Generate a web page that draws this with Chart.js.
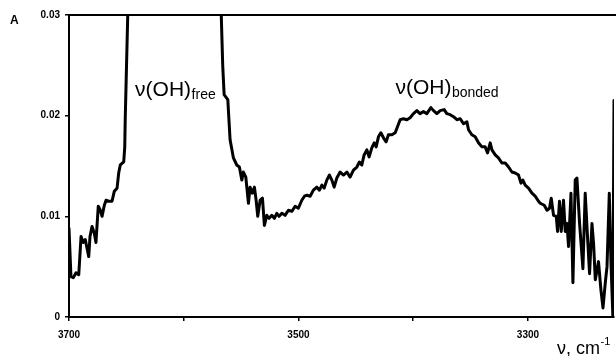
<!DOCTYPE html>
<html>
<head>
<meta charset="utf-8">
<title>IR spectrum, OH stretching region</title>
<script src="https://cdn.jsdelivr.net/npm/chart.js@4/dist/chart.umd.min.js"></script>
<style>
  html, body { margin: 0; padding: 0; background: #fff; }
  #wrap { width: 616px; height: 356px; }
</style>
</head>
<body>
<div id="wrap"><canvas id="spec" width="616" height="356"></canvas></div>
<script>
// Wavenumber (cm-1) and absorbance of the OH stretching band
const wavenumber = [
  3700.0, 3698.3, 3696.3, 3693.9, 3691.5, 3689.5, 3687.5, 3685.8, 3684.6, 3682.8,
  3681.7, 3679.9, 3677.9, 3676.5, 3674.5, 3672.7, 3671.2, 3669.2, 3667.7, 3665.4,
  3662.5, 3660.5, 3658.1, 3656.7, 3655.3, 3652.3, 3651.4, 3651.0, 3648.8, 3647.7,
  3645.0, 3635.0, 3620.0, 3605.0, 3590.0, 3578.0, 3570.0, 3568.3,
  3567.3, 3566.0, 3564.8, 3561.6, 3559.6, 3556.7, 3553.8, 3551.5, 3549.4, 3548.0,
  3545.9, 3543.6, 3542.2, 3540.2, 3538.4, 3536.9, 3535.5, 3533.4, 3531.4, 3529.7,
  3527.6, 3525.6, 3523.2, 3521.0, 3518.9, 3516.9, 3514.5, 3511.7, 3508.8, 3505.8,
  3502.9, 3500.1, 3497.1, 3494.8, 3492.7, 3489.8, 3487.0, 3484.0, 3481.7, 3479.6,
  3477.6, 3475.3, 3473.0, 3470.9, 3468.9, 3466.6, 3463.7, 3460.8, 3457.8, 3455.0,
  3452.1, 3449.1, 3446.9, 3444.8, 3442.8, 3440.4, 3438.4, 3436.1, 3434.0, 3432.3,
  3430.3, 3428.2, 3425.9, 3423.6, 3421.6, 3418.6, 3415.7, 3413.7, 3411.4, 3408.5,
  3405.5, 3402.7, 3399.8, 3396.8, 3394.1, 3391.1, 3388.1, 3384.6, 3382.3, 3379.4,
  3376.5, 3373.0, 3370.7, 3367.8, 3364.9, 3361.9, 3359.0, 3356.2, 3353.2, 3351.8,
  3348.9, 3346.0, 3343.1, 3340.1, 3337.3, 3335.2, 3332.9, 3331.4, 3328.5, 3325.7,
  3322.7, 3319.8, 3316.9, 3314.0, 3311.1, 3308.2, 3306.1, 3304.4, 3302.4, 3299.5,
  3296.5, 3293.7, 3290.8, 3289.3, 3285.8, 3283.4, 3281.2, 3279.7, 3277.7, 3275.3,
  3274.2, 3272.5, 3271.0, 3269.0, 3267.5, 3266.0, 3264.6, 3262.5, 3260.8, 3258.8,
  3257.3, 3255.0, 3252.1, 3250.1, 3248.1, 3246.3, 3244.2, 3242.8, 3241.3, 3238.5,
  3236.4, 3234.6, 3232.6, 3231.1, 3229.1, 3227.6, 3226.0, 3225.0
];
const absorbance = [
  0.0088, 0.0040, 0.0039, 0.0044, 0.0042, 0.0080, 0.0074, 0.0077, 0.0070, 0.0060,
  0.0080, 0.0090, 0.0083, 0.0074, 0.0110, 0.0106, 0.0100, 0.0111, 0.0116, 0.0115,
  0.0115, 0.0125, 0.0128, 0.0143, 0.0151, 0.0154, 0.0169, 0.0196, 0.0300, 0.0414,
  0.0550, 0.0750, 0.0850, 0.0880, 0.0800, 0.0600, 0.0420, 0.0365,
  0.0300, 0.0249, 0.0221, 0.0216, 0.0176, 0.0158, 0.0151, 0.0149, 0.0136, 0.0144,
  0.0139, 0.0113, 0.0129, 0.0123, 0.0129, 0.0116, 0.0100, 0.0116, 0.0118, 0.0091,
  0.0101, 0.0098, 0.0101, 0.0098, 0.0103, 0.0100, 0.0103, 0.0101, 0.0106, 0.0105,
  0.0110, 0.0108, 0.0116, 0.0120, 0.0121, 0.0120, 0.0126, 0.0129, 0.0126, 0.0131,
  0.0128, 0.0136, 0.0141, 0.0136, 0.0129, 0.0138, 0.0144, 0.0141, 0.0144, 0.0139,
  0.0146, 0.0149, 0.0154, 0.0151, 0.0161, 0.0166, 0.0159, 0.0168, 0.0173, 0.0169,
  0.0179, 0.0183, 0.0178, 0.0174, 0.0181, 0.0181, 0.0183, 0.0189, 0.0196, 0.0197,
  0.0196, 0.0198, 0.0202, 0.0205, 0.0202, 0.0204, 0.0202, 0.0208, 0.0205, 0.0202,
  0.0205, 0.0206, 0.0202, 0.0201, 0.0199, 0.0196, 0.0197, 0.0192, 0.0194, 0.0186,
  0.0181, 0.0179, 0.0173, 0.0169, 0.0169, 0.0163, 0.0173, 0.0166, 0.0161, 0.0158,
  0.0153, 0.0153, 0.0149, 0.0144, 0.0143, 0.0141, 0.0133, 0.0136, 0.0131, 0.0128,
  0.0123, 0.0120, 0.0115, 0.0113, 0.0111, 0.0106, 0.0108, 0.0118, 0.0101, 0.0100,
  0.0085, 0.0115, 0.0085, 0.0116, 0.0085, 0.0093, 0.0070, 0.0123, 0.0034, 0.0136,
  0.0138, 0.0093, 0.0048, 0.0123, 0.0080, 0.0043, 0.0093, 0.0073, 0.0037, 0.0055,
  0.0027, 0.0009, 0.0034, 0.0050, 0.0123, 0.0053, 0.0001, 0.0215
];

const xTicks = [3700, 3600, 3500, 3400, 3300];
const xTickLabels = ['3700', '', '3500', '', '3300'];
const yTicks = [0, 0.01, 0.02, 0.03];
const yTickLabels = ['0', '0.01', '0.02', '0.03'];

const FONT = '"Liberation Sans", Arial, Helvetica, sans-serif';

// Band assignments and axis captions
const textPlugin = {
  id: 'spectrumText',
  afterDraw(chart) {
    const { ctx, chartArea, scales } = chart;
    const xs = scales.x, ys = scales.y;
    ctx.save();

    // frame line along the top of the plot
    ctx.strokeStyle = '#000';
    ctx.lineWidth = 2;
    ctx.beginPath();
    ctx.moveTo(chartArea.left - 1, chartArea.top);
    ctx.lineTo(chartArea.right + 2, chartArea.top);
    ctx.stroke();

    ctx.fillStyle = '#000';
    ctx.textBaseline = 'alphabetic';
    ctx.textAlign = 'left';

    // panel letter
    ctx.font = 'bold 12px ' + FONT;
    ctx.fillText('A', 10, 24);

    function labelWithSub(main, sub, v, a, subDrop) {
      const x = xs.getPixelForValue(v);
      const y = ys.getPixelForValue(a);
      ctx.font = '21px ' + FONT;
      ctx.fillText(main, x, y);
      const w = ctx.measureText(main).width;
      ctx.font = '14px ' + FONT;
      ctx.fillText(sub, x + w + 0.5, y + subDrop);
    }
    labelWithSub('\u03bd(OH)', 'free', 3642.4, 0.02195, 3);
    labelWithSub('\u03bd(OH)', 'bonded', 3415.5, 0.02215, 3);

    // x-axis caption
    ctx.font = '18px ' + FONT;
    const cap = '\u03bd, cm';
    ctx.fillText(cap, 557, 354);
    const cw = ctx.measureText(cap).width;
    ctx.font = '11px ' + FONT;
    ctx.fillText('-1', 557 + cw + 0.5, 345);

    ctx.restore();
  }
};

const points = wavenumber.map((v, i) => ({ x: v, y: absorbance[i] }));

new Chart(document.getElementById('spec'), {
  type: 'line',
  data: {
    datasets: [{
      data: points,
      borderColor: '#000',
      borderWidth: 3,
      pointRadius: 0,
      tension: 0,
      fill: false,
      borderJoinStyle: 'round',
      borderCapStyle: 'round'
    }]
  },
  options: {
    responsive: false,
    devicePixelRatio: 1,
    animation: false,
    events: [],
    layout: { padding: { left: 0, right: 2, top: 15, bottom: 0 } },
    plugins: {
      legend: { display: false },
      tooltip: { enabled: false },
      title: { display: false }
    },
    scales: {
      x: {
        type: 'linear',
        reverse: true,
        min: 3225,
        max: 3700,
        afterFit(s) { s.height = 39; },
        afterBuildTicks(s) { s.ticks = xTicks.map(v => ({ value: v })); },
        border: { display: true, color: '#000', width: 2 },
        grid: { drawOnChartArea: false, drawTicks: true, tickLength: 4, color: '#000', lineWidth: 1.5 },
        ticks: {
          autoSkip: false,
          maxRotation: 0,
          padding: 8,
          color: '#000',
          font: { family: FONT, size: 10, weight: 'bold' },
          callback(value) {
            const i = xTicks.indexOf(value);
            return i >= 0 ? xTickLabels[i] : '';
          }
        }
      },
      y: {
        type: 'linear',
        min: 0,
        max: 0.03,
        afterFit(s) { s.width = 69; },
        afterBuildTicks(s) { s.ticks = yTicks.map(v => ({ value: v })); },
        border: { display: true, color: '#000', width: 2 },
        grid: { drawOnChartArea: false, drawTicks: true, tickLength: 4, color: '#000', lineWidth: 1.5 },
        ticks: {
          autoSkip: false,
          padding: 5,
          color: '#000',
          font: { family: FONT, size: 10, weight: 'bold' },
          callback(value) {
            const i = yTicks.findIndex(t => Math.abs(t - value) < 1e-9);
            return i >= 0 ? yTickLabels[i] : '';
          }
        }
      }
    }
  },
  plugins: [textPlugin]
});
</script>
</body>
</html>
